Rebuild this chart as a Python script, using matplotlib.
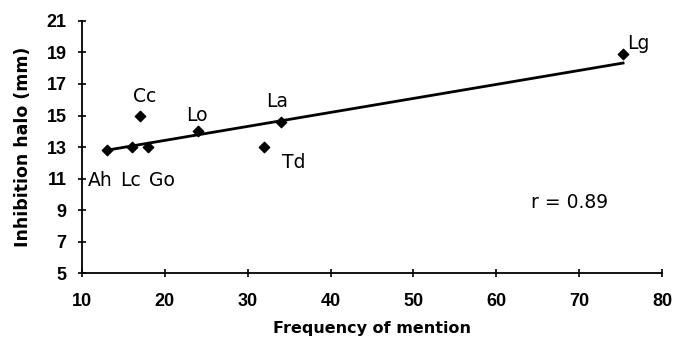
import matplotlib
matplotlib.use("Agg")
import matplotlib.pyplot as plt

plt.rcParams['font.family'] = ['Liberation Sans', 'DejaVu Sans']

# Data
labels = ["Ah", "Lc", "Go", "Cc", "Lo", "Td", "La", "Lg"]
freq = [13, 16, 18, 17, 24, 32, 34, 75.3]
halo = [12.8, 13.0, 13.0, 15.0, 14.0, 13.0, 14.6, 18.9]
fit_x = [13, 75.3]
fit_y = [12.8, 18.33]
x_ticks = [10, 20, 30, 40, 50, 60, 70, 80]
y_ticks = [5, 7, 9, 11, 13, 15, 17, 19, 21]
r_text = "r = 0.89"

# label anchor positions (data coords)
label_pos = {
    "Ah": (12.2, 10.9), "Lc": (15.9, 10.9), "Go": (19.6, 10.9),
    "Cc": (17.6, 16.2), "Lo": (23.9, 15.0), "Td": (35.6, 12.0),
    "La": (33.6, 15.9), "Lg": (77.2, 19.6),
}

fig = plt.figure(figsize=(6.74, 3.38), dpi=100)
ax = fig.add_axes([0.1217, 0.192, 0.8605, 0.746])

ax.plot(fit_x, fit_y, color='black', lw=2.0, zorder=2)
ax.scatter(freq, halo, marker='D', s=28, color='black', zorder=3)

lab_font = ['DejaVu Sans']
for lab in labels:
    x, y = label_pos[lab]
    ax.text(x, y, lab, ha='center', va='center', fontsize=13.5, family=lab_font)

ax.text(68.8, 9.5, r_text, ha='center', va='center', fontsize=13.5, family=lab_font)

ax.set_xlim(10, 80)
ax.set_ylim(5, 21)
ax.set_xticks(x_ticks)
ax.set_yticks(y_ticks)
for s in ['top', 'right']:
    ax.spines[s].set_visible(False)
for s in ['left', 'bottom']:
    ax.spines[s].set_linewidth(1.3)
ax.tick_params(direction='inout', length=6, width=1.2, labelsize=13)
ax.tick_params(axis='x', pad=11)
ax.tick_params(axis='y', pad=8)
for t in ax.get_xticklabels() + ax.get_yticklabels():
    t.set_fontweight('bold')

ax.set_xlabel("Frequency of mention", fontsize=11.5, fontweight='bold', family=['DejaVu Sans'])
ax.set_ylabel("Inhibition halo (mm)", fontsize=12.5, fontweight='bold', family=['DejaVu Sans'])
ax.xaxis.set_label_coords(0.5, -0.218)
ax.yaxis.set_label_coords(-0.102, 0.5)
ax.xaxis.label.set_va('center')
ax.yaxis.label.set_va('center')

fig.savefig("out.png", dpi=100)
